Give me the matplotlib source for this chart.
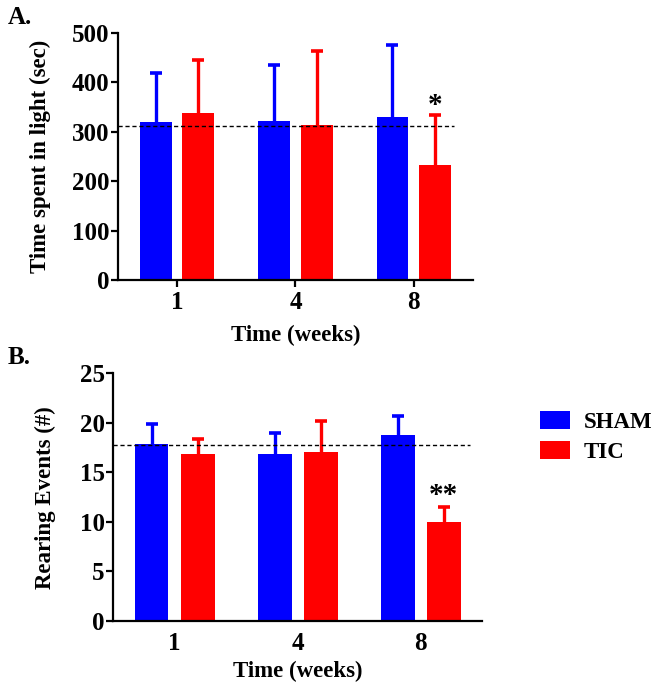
import matplotlib
matplotlib.use("Agg")
import matplotlib.pyplot as plt
import numpy as np
from matplotlib.patches import Patch

plt.rcParams['font.family'] = ['Liberation Serif', 'DejaVu Serif']
plt.rcParams['font.weight'] = 'bold'

weeks = ["1", "4", "8"]
groups = ["SHAM", "TIC"]
colors = ["#0000FF", "#FF0000"]

# Panel A: time spent in light (sec)
light_sham = [320, 322, 330]
light_sham_err = [98, 113, 145]
light_tic = [338, 313, 232]
light_tic_err = [107, 151, 101]
light_ref = 311

# Panel B: rearing events (#)
rear_sham = [17.9, 16.9, 18.8]
rear_sham_err = [2.0, 2.1, 1.9]
rear_tic = [16.9, 17.1, 9.95]
rear_tic_err = [1.5, 3.1, 1.55]
rear_ref = 17.75

fig = plt.figure(figsize=(6.59, 6.92), dpi=100)
axA = fig.add_axes([0.179, 0.5954, 0.5387, 0.357])
axB = fig.add_axes([0.1715, 0.1026, 0.56, 0.358])

def draw(ax, sham, sham_err, tic, tic_err, ref, ylim, yticks, ylabel, width, off, ref_end, xticks_on):
    x = np.arange(len(weeks))
    for vals, errs, c, sgn in [(sham, sham_err, colors[0], -1), (tic, tic_err, colors[1], 1)]:
        pos = x + sgn * off
        vals = np.asarray(vals, float)
        tops = vals + np.asarray(errs, float)
        ax.bar(pos, vals, width=width, color=c, zorder=2, linewidth=0)
        ax.vlines(pos, vals, tops, colors=c, linewidth=2.4, zorder=1)
        ax.plot(pos, tops, linestyle='none', marker='_', markersize=9,
                markeredgewidth=2.6, color=c, zorder=1)
    ax.plot([-0.5, ref_end], [ref, ref], color='black', lw=1.0, ls=(0, (3, 2)), zorder=3)
    ax.set_xlim(-0.5, 2.5)
    ax.set_ylim(*ylim)
    ax.set_yticks(yticks)
    ax.set_xticks(x)
    ax.set_xticklabels(weeks)
    for s in ['top', 'right']:
        ax.spines[s].set_visible(False)
    for s in ['left', 'bottom']:
        ax.spines[s].set_linewidth(1.6)
        ax.spines[s].set_zorder(4)
    ax.tick_params(axis='y', length=5, width=1.6, labelsize=18, pad=1)
    if xticks_on:
        ax.tick_params(axis='x', length=5, width=1.6, labelsize=18, pad=3)
    else:
        ax.tick_params(axis='x', length=0, labelsize=18, pad=8)
    for lab in ax.get_xticklabels() + ax.get_yticklabels():
        lab.set_fontweight('bold')
    ax.set_ylabel(ylabel, fontsize=16.5, fontweight='bold')
    ax.set_xlabel("Time (weeks)", fontsize=16.5, fontweight='bold')

draw(axA, light_sham, light_sham_err, light_tic, light_tic_err, light_ref,
     (0, 500), [0, 100, 200, 300, 400, 500], "Time spent in light (sec)",
     0.27, 0.18, 2.34, True)
draw(axB, rear_sham, rear_sham_err, rear_tic, rear_tic_err, rear_ref,
     (0, 25), [0, 5, 10, 15, 20, 25], "Rearing Events (#)",
     0.276, 0.187, 2.4, False)

axA.yaxis.set_label_coords(-0.188, 0.5)
axB.yaxis.set_label_coords(-0.155, 0.5)
axA.xaxis.set_label_coords(0.5, -0.18)
axB.xaxis.set_label_coords(0.5, -0.16)

axA.text(2 + 0.18, light_tic[2] + light_tic_err[2] - 8, "*", ha='center', va='bottom',
         fontsize=21, fontweight='bold')
axB.text(2 + 0.187, rear_tic[2] + rear_tic_err[2] - 0.2, "**", ha='center', va='bottom',
         fontsize=21, fontweight='bold')

fig.text(0.012, 0.974, "A.", fontsize=18, fontweight='bold', va='center', ha='left')
fig.text(0.012, 0.484, "B.", fontsize=18, fontweight='bold', va='center', ha='left')

handles = [Patch(facecolor=colors[0]), Patch(facecolor=colors[1])]
fig.legend(handles, groups, loc='center left', bbox_to_anchor=(0.788, 0.369),
           frameon=False, prop={'weight': 'bold', 'size': 16.5},
           handlelength=1.3, handleheight=0.85, handletextpad=0.6, labelspacing=0.35)

fig.savefig("out.png", dpi=100)
